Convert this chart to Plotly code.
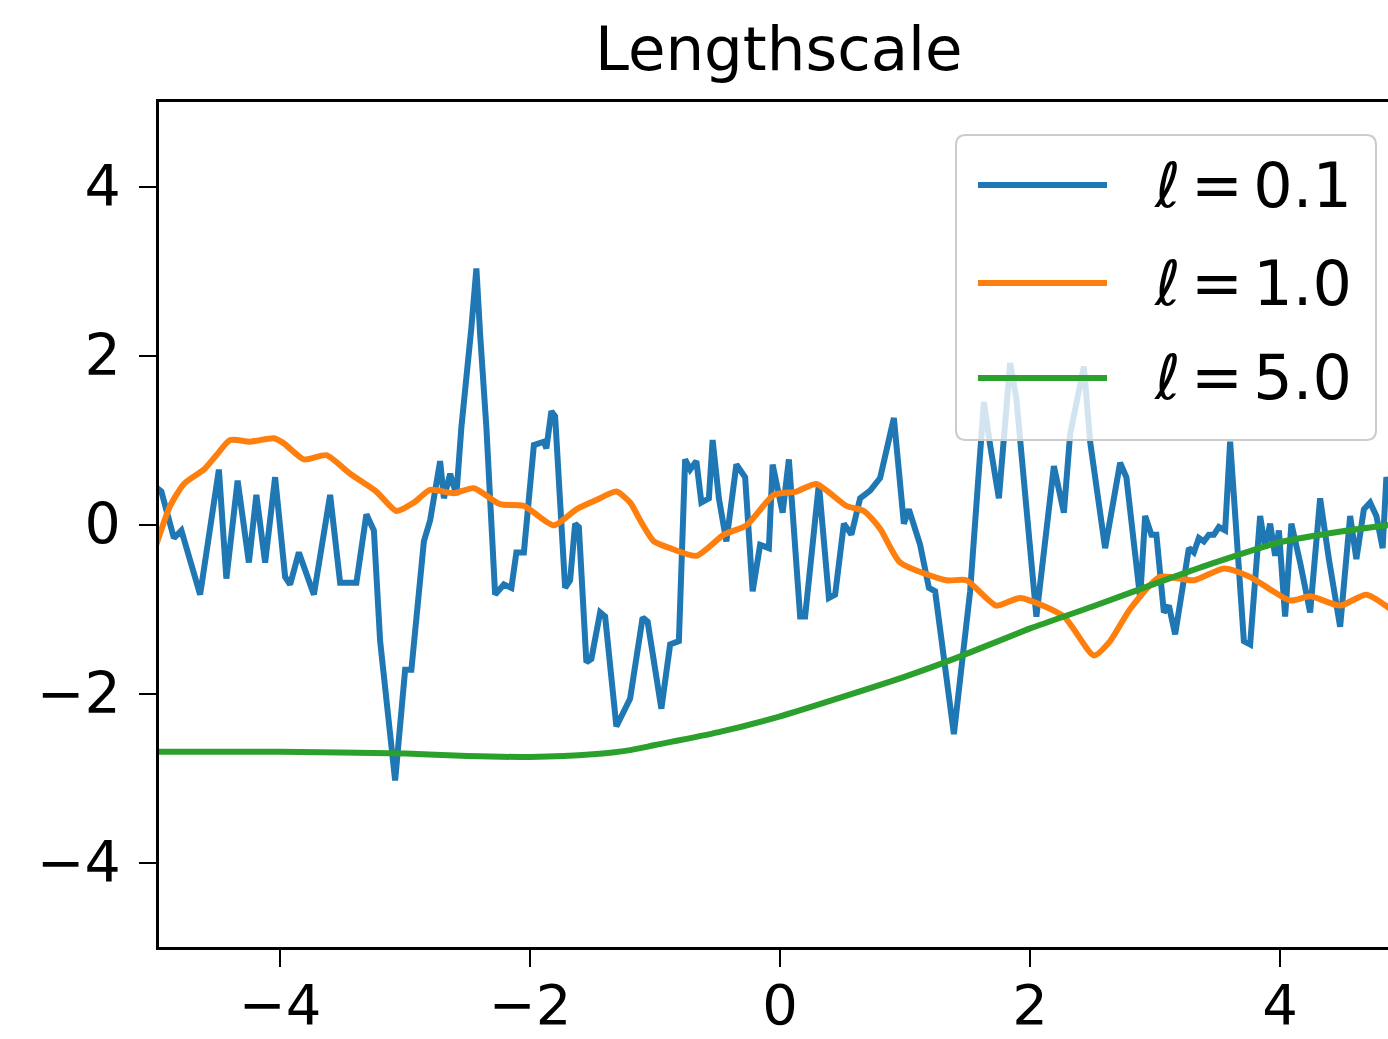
import plotly.graph_objects as go

# Three GP prior samples drawn with different lengthscales
blue_x = [-5.00, -4.95, -4.85, -4.79, -4.64, -4.49, -4.43, -4.34, -4.25, -4.19, -4.12, -4.04,
          -3.96, -3.92, -3.85, -3.73, -3.60, -3.52, -3.39, -3.31, -3.25, -3.20, -3.08, -3.00,
          -2.95, -2.85, -2.80, -2.72, -2.69, -2.64, -2.59, -2.55, -2.47, -2.43, -2.40, -2.35,
          -2.28, -2.21, -2.15, -2.11, -2.05, -1.97, -1.89, -1.87, -1.83, -1.80, -1.72, -1.68,
          -1.64, -1.61, -1.55, -1.51, -1.44, -1.40, -1.31, -1.24, -1.20, -1.10, -1.06, -0.95,
          -0.88, -0.81, -0.76, -0.72, -0.67, -0.63, -0.57, -0.54, -0.49, -0.43, -0.35, -0.28,
          -0.22, -0.16, -0.09, -0.06, -0.01, 0.02, 0.07, 0.16, 0.20, 0.31, 0.39, 0.44,
          0.51, 0.57, 0.64, 0.72, 0.80, 0.91, 0.99, 1.03, 1.12, 1.19, 1.24, 1.39,
          1.52, 1.63, 1.68, 1.75, 1.84, 1.89, 2.05, 2.19, 2.27, 2.32, 2.43, 2.48,
          2.60, 2.72, 2.77, 2.88, 2.92, 2.97, 3.01, 3.07, 3.11, 3.16, 3.27, 3.31,
          3.35, 3.39, 3.43, 3.47, 3.51, 3.56, 3.60, 3.64, 3.71, 3.76, 3.84, 3.88,
          3.92, 3.96, 3.99, 4.04, 4.09, 4.16, 4.24, 4.32, 4.39, 4.48, 4.56, 4.61,
          4.67, 4.72, 4.77, 4.82, 4.85, 4.90]
blue_y = [0.45, 0.39, -0.16, -0.07, -0.83, 0.65, -0.64, 0.52, -0.45, 0.35, -0.45, 0.56,
          -0.62, -0.71, -0.33, -0.83, 0.35, -0.69, -0.69, 0.12, -0.07, -1.38, -3.03, -1.72,
          -1.72, -0.20, 0.05, 0.75, 0.31, 0.60, 0.35, 1.15, 2.33, 3.03, 2.25, 1.15,
          -0.83, -0.71, -0.75, -0.33, -0.33, 0.94, 0.98, 0.90, 1.34, 1.28, -0.75, -0.66,
          0.01, -0.03, -1.63, -1.59, -1.04, -1.09, -2.39, -2.18, -2.06, -1.10, -1.15, -2.18,
          -1.42, -1.38, 0.77, 0.65, 0.75, 0.26, 0.31, 1.00, 0.31, -0.20, 0.71, 0.56,
          -0.79, -0.24, -0.28, 0.71, 0.31, 0.14, 0.77, -1.09, -1.09, 0.48, -0.87, -0.83,
          0.01, -0.12, 0.31, 0.40, 0.55, 1.26, 0.01, 0.18, -0.24, -0.75, -0.79, -2.48,
          -0.79, 1.45, 0.94, 0.31, 1.91, 1.49, -1.09, 0.69, 0.14, 1.07, 1.87, 0.98,
          -0.28, 0.73, 0.56, -0.87, 0.10, -0.12, -0.12, -1.04, -0.96, -1.30, -0.28, -0.33,
          -0.16, -0.20, -0.12, -0.12, -0.03, -0.07, 0.98, 0.10, -1.38, -1.42, 0.10, -0.28,
          0.01, -0.37, -0.07, -1.09, 0.01, -0.45, -1.04, 0.31, -0.41, -1.21, 0.10, -0.41,
          0.18, 0.26, 0.10, -0.28, 0.56, 0.30]

orange_x = [-5.00, -4.88, -4.77, -4.61, -4.51, -4.40, -4.24, -4.05, -3.97, -3.81, -3.63, -3.44,
            -3.23, -3.07, -2.93, -2.80, -2.61, -2.45, -2.24, -2.05, -1.81, -1.63, -1.47, -1.31,
            -1.20, -1.12, -1.01, -0.88, -0.67, -0.45, -0.27, -0.05, 0.13, 0.29, 0.53, 0.67,
            0.80, 0.96, 1.33, 1.49, 1.73, 1.92, 2.27, 2.51, 2.64, 2.80, 3.04, 3.31,
            3.55, 3.76, 4.08, 4.24, 4.48, 4.69, 4.90]
orange_y = [-0.28, 0.22, 0.48, 0.65, 0.82, 1.00, 0.98, 1.02, 0.96, 0.77, 0.82, 0.60,
            0.39, 0.16, 0.26, 0.41, 0.37, 0.43, 0.24, 0.22, -0.01, 0.18, 0.29, 0.39,
            0.26, 0.05, -0.20, -0.28, -0.37, -0.12, -0.01, 0.35, 0.39, 0.48, 0.22, 0.16,
            -0.05, -0.45, -0.66, -0.66, -0.96, -0.87, -1.09, -1.55, -1.38, -1.00, -0.62, -0.66,
            -0.52, -0.62, -0.90, -0.85, -0.96, -0.83, -1.02]

green_x = [-5.0, -4.0, -3.0, -2.5, -2.0, -1.5, -1.2, -1.0, -0.5, 0.0, 0.5, 1.0,
           1.39, 2.0, 2.5, 3.0, 3.44, 4.0, 4.5, 4.9]
green_y = [-2.69, -2.69, -2.71, -2.74, -2.75, -2.72, -2.67, -2.61, -2.46, -2.27, -2.04, -1.80,
           -1.59, -1.23, -0.97, -0.70, -0.47, -0.21, -0.08, 0.00]

series_names = ["0.1", "1.0", "5.0"]
series_colors = ["#1f77b4", "#ff7f0e", "#2ca02c"]
tick_vals = [-4, -2, 0, 2, 4]
title_text = "Lengthscale"

W, H = 1388, 1039
ML, MR, MT, MB = 159, 0, 102, 92
X_RANGE = [-4.969, 4.863]
Y_RANGE = [-5, 5]
LINE_W = 6
FONT = "DejaVu Sans"
SP = "\u2006"  # narrow gap around the relation sign, as in math typesetting


def paper_x(p):
    return (p - ML) / (W - ML - MR)


def paper_y(p):
    return (H - MB - p) / (H - MT - MB)


fig = go.Figure()
samples = [(blue_x, blue_y, "linear"), (orange_x, orange_y, "spline"), (green_x, green_y, "spline")]
for (xs, ys, shape), name, color in zip(samples, series_names, series_colors):
    fig.add_trace(go.Scatter(
        x=xs, y=ys, mode="lines", name="ℓ = " + name, showlegend=False,
        line=dict(color=color, width=LINE_W, shape=shape, smoothing=0.6),
    ))

# Legend frame with rounded corners, semi-transparent white fill
x0, x1 = paper_x(956), paper_x(1376)
y0, y1 = paper_y(135), paper_y(440)
rx = 10 / (W - ML - MR)
ry = 10 / (H - MT - MB)
path = (f"M{x0 + rx},{y0} L{x1 - rx},{y0} Q{x1},{y0} {x1},{y0 - ry} "
        f"L{x1},{y1 + ry} Q{x1},{y1} {x1 - rx},{y1} L{x0 + rx},{y1} "
        f"Q{x0},{y1} {x0},{y1 + ry} L{x0},{y0 - ry} Q{x0},{y0} {x0 + rx},{y0} Z")
shapes = [dict(type="path", path=path, xref="paper", yref="paper",
               fillcolor="rgba(255,255,255,0.8)", line=dict(color="#cccccc", width=2), layer="above")]
annotations = []
for row_y, name, color in zip([185, 283, 378], series_names, series_colors):
    shapes.append(dict(type="line", xref="paper", yref="paper",
                       x0=paper_x(978), x1=paper_x(1107), y0=paper_y(row_y), y1=paper_y(row_y),
                       line=dict(color=color, width=LINE_W), layer="above"))
    annotations.append(dict(text=f"<i>ℓ</i>{SP}={SP}{name}", xref="paper", yref="paper",
                            x=paper_x(1152), y=paper_y(row_y), xanchor="left", yanchor="middle",
                            showarrow=False, font=dict(family=FONT, size=62, color="black")))

annotations.append(dict(text=title_text, xref="paper", yref="paper",
                        x=paper_x(779), y=paper_y(48), xanchor="center", yanchor="middle",
                        showarrow=False, font=dict(family=FONT, size=61, color="black")))

axis_common = dict(showgrid=False, zeroline=False, showline=True, linecolor="black", linewidth=2.5,
                   ticks="outside", ticklen=17, tickwidth=2, tickcolor="black", automargin=False,
                   tickvals=tick_vals)

fig.update_layout(
    width=W, height=H, autosize=False,
    margin=dict(l=ML, r=MR, t=MT, b=MB, pad=0, autoexpand=False),
    paper_bgcolor="white", plot_bgcolor="white",
    xaxis=dict(range=X_RANGE, mirror=True, ticklabelstandoff=-10,
               tickfont=dict(family=FONT, size=56, color="black"), **axis_common),
    yaxis=dict(range=Y_RANGE, mirror=False, ticklabelstandoff=7,
               tickfont=dict(family=FONT, size=57, color="black"), **axis_common),
    shapes=shapes, annotations=annotations, showlegend=False,
)

fig.write_html("out.html")
